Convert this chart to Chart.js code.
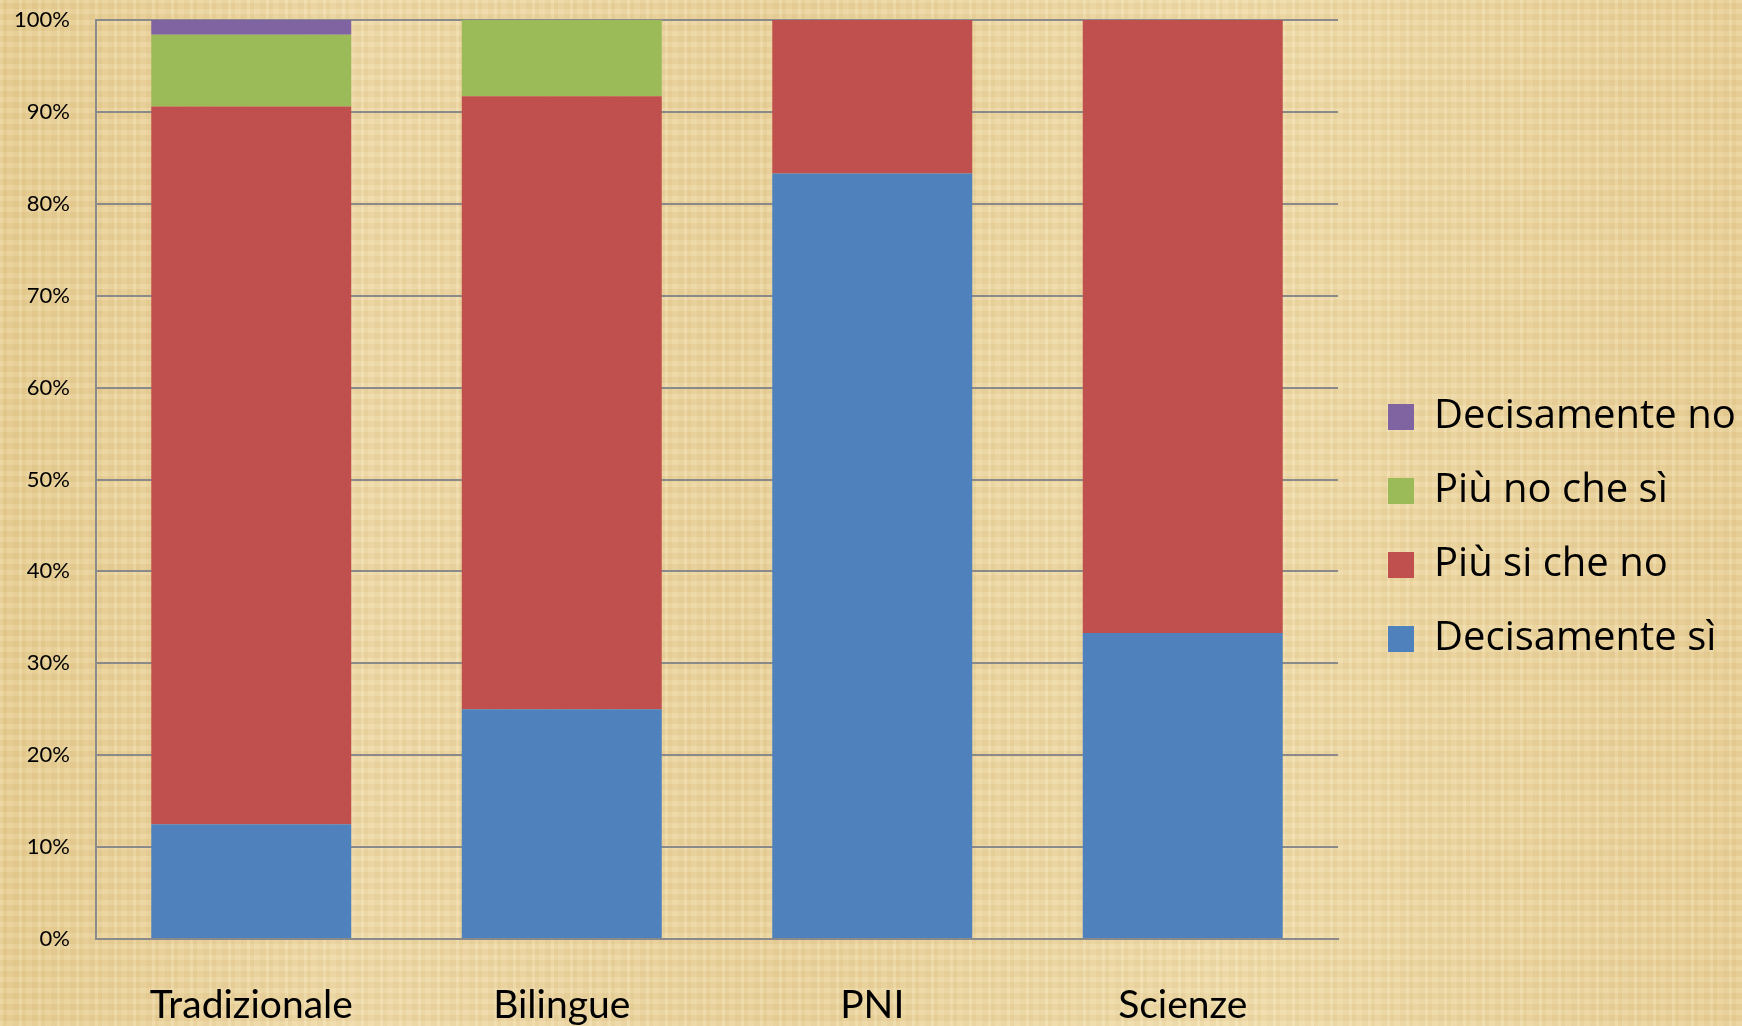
<!DOCTYPE html>
<html>
<head>
<meta charset="utf-8">
<script src="https://cdn.jsdelivr.net/npm/chart.js@4/dist/chart.umd.min.js"></script>
<style>
  html, body { margin: 0; padding: 0; }
  body {
    width: 1742px; height: 1026px; overflow: hidden;
    background-color: #ebd5a0;
    background-image:
      repeating-linear-gradient(90deg, rgba(255,245,210,0.16) 0px, rgba(255,245,210,0.16) 3px, rgba(200,165,90,0.09) 3px, rgba(200,165,90,0.09) 7px, rgba(255,240,200,0.05) 7px, rgba(255,240,200,0.05) 13px, rgba(190,150,80,0.06) 13px, rgba(190,150,80,0.06) 19px),
      repeating-linear-gradient(0deg, rgba(255,245,215,0.12) 0px, rgba(255,245,215,0.12) 5px, rgba(190,150,80,0.07) 5px, rgba(190,150,80,0.07) 11px),
      linear-gradient(90deg, #e6cd92 0%, #eed9a8 20%, #e9d29c 45%, #efdcab 70%, #e8cf97 100%);
  }
  #wrap { position: absolute; left: 0; top: 0; width: 1742px; height: 1026px; }
</style>
</head>
<body>
<div id="wrap"><canvas id="c" width="1742" height="1026"></canvas></div>
<script>
const categories = ['Tradizionale', 'Bilingue', 'PNI', 'Scienze'];
const decisamenteSi = [12.5, 25.0, 83.3, 33.3];
const piuSiCheNo   = [78.1, 66.7, 16.7, 66.7];
const piuNoCheSi   = [7.8, 8.3, 0, 0];
const decisamenteNo = [1.6, 0, 0, 0];
const yTicks = [0, 10, 20, 30, 40, 50, 60, 70, 80, 90, 100];

const ctx = document.getElementById('c');
new Chart(ctx, {
  type: 'bar',
  data: {
    labels: categories,
    datasets: [
      { label: 'Decisamente sì', data: decisamenteSi, backgroundColor: '#4f81bd' },
      { label: 'Più si che no', data: piuSiCheNo, backgroundColor: '#c0504d' },
      { label: 'Più no che sì', data: piuNoCheSi, backgroundColor: '#9bbb59' },
      { label: 'Decisamente no', data: decisamenteNo, backgroundColor: '#8064a2' }
    ]
  },
  options: {
    responsive: false,
    animation: false,
    devicePixelRatio: 1,
    layout: { padding: { top: 20, left: 0, right: 0, bottom: 0 } },
    datasets: { bar: { categoryPercentage: 1.0, barPercentage: 0.644, borderWidth: 0 } },
    scales: {
      x: {
        stacked: true,
        grid: { display: false, drawTicks: false },
        border: { display: true, color: '#8a8a8a', width: 2 },
        ticks: { color: '#000', padding: 43, font: { family: 'Lato', size: 39 } },
        afterFit: s => { s.height = 87; s.paddingLeft = 0; s.paddingRight = 0; }
      },
      y: {
        stacked: true,
        min: 0, max: 100,
        afterBuildTicks: s => { s.ticks = yTicks.map(v => ({ value: v })); },
        grid: { color: '#8a8a8a', lineWidth: 2, drawTicks: false },
        border: { display: true, color: '#8a8a8a', width: 2 },
        ticks: { color: '#000', padding: 26, font: { family: 'Lato', size: 22 }, callback: v => v + '%' },
        afterFit: s => { s.width = 96; s.paddingTop = 0; s.paddingBottom = 0; }
      },
      gap: {
        position: 'right',
        display: true,
        grid: { display: false, drawOnChartArea: false, drawTicks: false },
        border: { display: false },
        ticks: { display: false },
        afterFit: s => { s.width = 16; s.paddingTop = 0; s.paddingBottom = 0; }
      }
    },
    plugins: {
      tooltip: { enabled: false },
      legend: {
        position: 'right',
        reverse: true,
        maxWidth: 388,
        title: { display: true, text: ' ', font: { size: 8, lineHeight: 1 }, padding: { top: 0, bottom: 2 } },
        labels: {
          color: '#000',
          boxWidth: 26,
          boxHeight: 26,
          padding: 34,
          font: { family: 'Open Sans', size: 40 }
        }
      }
    }
  }
});
</script>
</body>
</html>
